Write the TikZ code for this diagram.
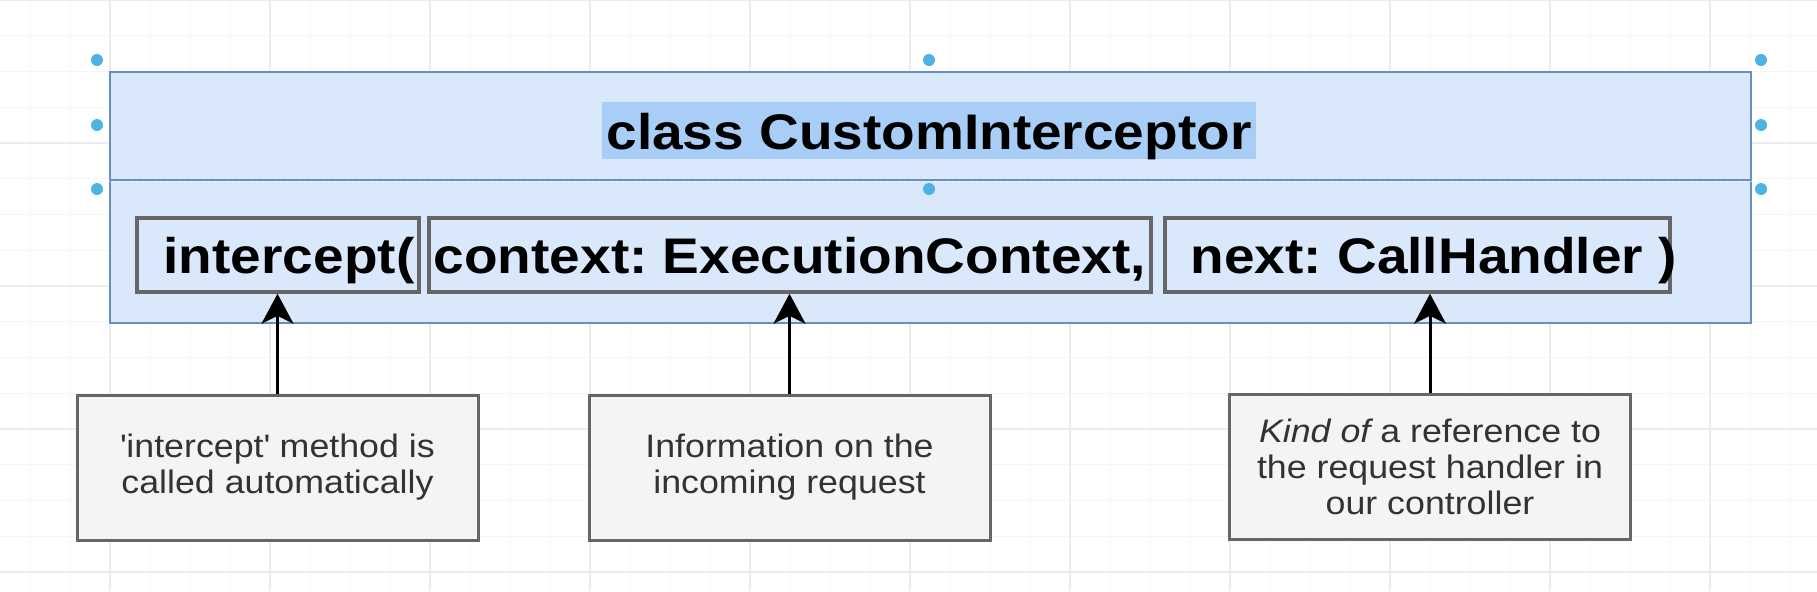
\documentclass[tikz,border=0pt]{standalone}
\usepackage{fontspec}
\setmainfont{Liberation Sans}[FakeStretch=1.1]
\usetikzlibrary{positioning, arrows.meta}
\definecolor{umlfill}{HTML}{DAE8FC}
\definecolor{umlline}{HTML}{6C8EBF}
\definecolor{selblue}{HTML}{A8CDF6}
\definecolor{handleblue}{HTML}{4DB3E2}
\definecolor{boxline}{HTML}{666666}
\definecolor{notefill}{HTML}{F4F4F6}
\definecolor{notetext}{HTML}{333333}
\definecolor{gridminor}{HTML}{F6F6F6}
\definecolor{gridmajor}{HTML}{ECECEC}
\newcommand{\codefont}{\fontsize{14.23pt}{17pt}\selectfont\bfseries}
\newcommand{\notefont}{\fontsize{9.25pt}{10.24pt}\selectfont}
\frenchspacing

\begin{document}
\begin{tikzpicture}[x=0.1mm, y=-0.1mm,
  argbox/.style={draw=boxline, line width=0.35mm, inner sep=0pt, minimum height=7.4mm},
  notebox/.style={draw=boxline, line width=0.3mm, fill=notefill, text=notetext, align=center, font=\notefont, minimum width=40.1mm, minimum height=14.5mm, inner sep=0pt},
  code/.style={anchor=base west, inner sep=0pt, font=\codefont},
  handle/.style={fill=handleblue},
  pointer/.style={-{Stealth[length=3mm, width=3.2mm, inset=0.8mm]}, line width=0.3mm}]
\useasboundingbox (0,0) rectangle (1817,591);
\fill[white] (0,0) rectangle (1817,591);
\begin{scope}
\clip (0,0) rectangle (1817,591);
\foreach \gx in {-10,30,...,1830} \draw[gridminor, line width=0.1mm] (\gx,0) -- (\gx,591);
\foreach \gy in {0,35.75,...,600} \draw[gridminor, line width=0.1mm] (0,\gy) -- (1817,\gy);
\foreach \gx in {-50,110,...,1830} \draw[gridmajor, line width=0.12mm] (\gx,0) -- (\gx,591);
\foreach \gy in {0,143,...,600} \draw[gridmajor, line width=0.12mm] (0,\gy) -- (1817,\gy);
\end{scope}

\node[draw=umlline, fill=umlfill, line width=0.25mm, minimum width=164.1mm, minimum height=25.1mm, inner sep=0pt] (cls) at (930.5,197.5) {};
\node[draw=umlline, line width=0.25mm, minimum width=164.1mm, minimum height=10.8mm, inner sep=0pt] (head) at (930.5,126) {};
\draw[white, opacity=0.6, line width=0.1mm, dash pattern=on 0.3mm off 0.3mm] (head.north west) rectangle (head.south east);
\node[font=\codefont, fill=selblue, inner xsep=0.45mm, inner ysep=0.2mm, text height=4.5mm, text depth=0.8mm, anchor=base] (title) at (929,149) {class CustomInterceptor};

\node[argbox, minimum width=28.2mm] (argmeth) at (278,255) {};
\node[argbox, minimum width=72.2mm] (argctx) at (790,255) {};
\node[argbox, minimum width=50.5mm] (argnext) at (1417.5,255) {};
\node[code] (tmeth) at (163,273) {intercept(};
\node[code] (tctx) at (433,273) {context: ExecutionContext,};
\node[code] (tnext) at (1190,273) {next: CallHandler )};

\node[notebox] (nmeth) at (277.5,467.5) {\textquotesingle intercept\textquotesingle\ method is\\called automatically};
\node[notebox] (nctx) at (789.5,467.5) {Information on the\\incoming request};
\node[notebox] (nnext) at (1430,467) {{\itshape Kind of} a reference to\\the request handler in\\our controller};

\draw[pointer] (nmeth.north) -- (nmeth.north |- argmeth.south);
\draw[pointer] (nctx.north) -- (nctx.north |- argctx.south);
\draw[pointer] (nnext.north) -- (nnext.north |- argnext.south);

\foreach \hx/\hy in {97/60, 929/60, 1761/60, 97/125, 1761/125, 97/189, 929/189, 1761/189}
  \fill[handle] (\hx,\hy) circle[radius=0.6mm];
\end{tikzpicture}
\end{document}
